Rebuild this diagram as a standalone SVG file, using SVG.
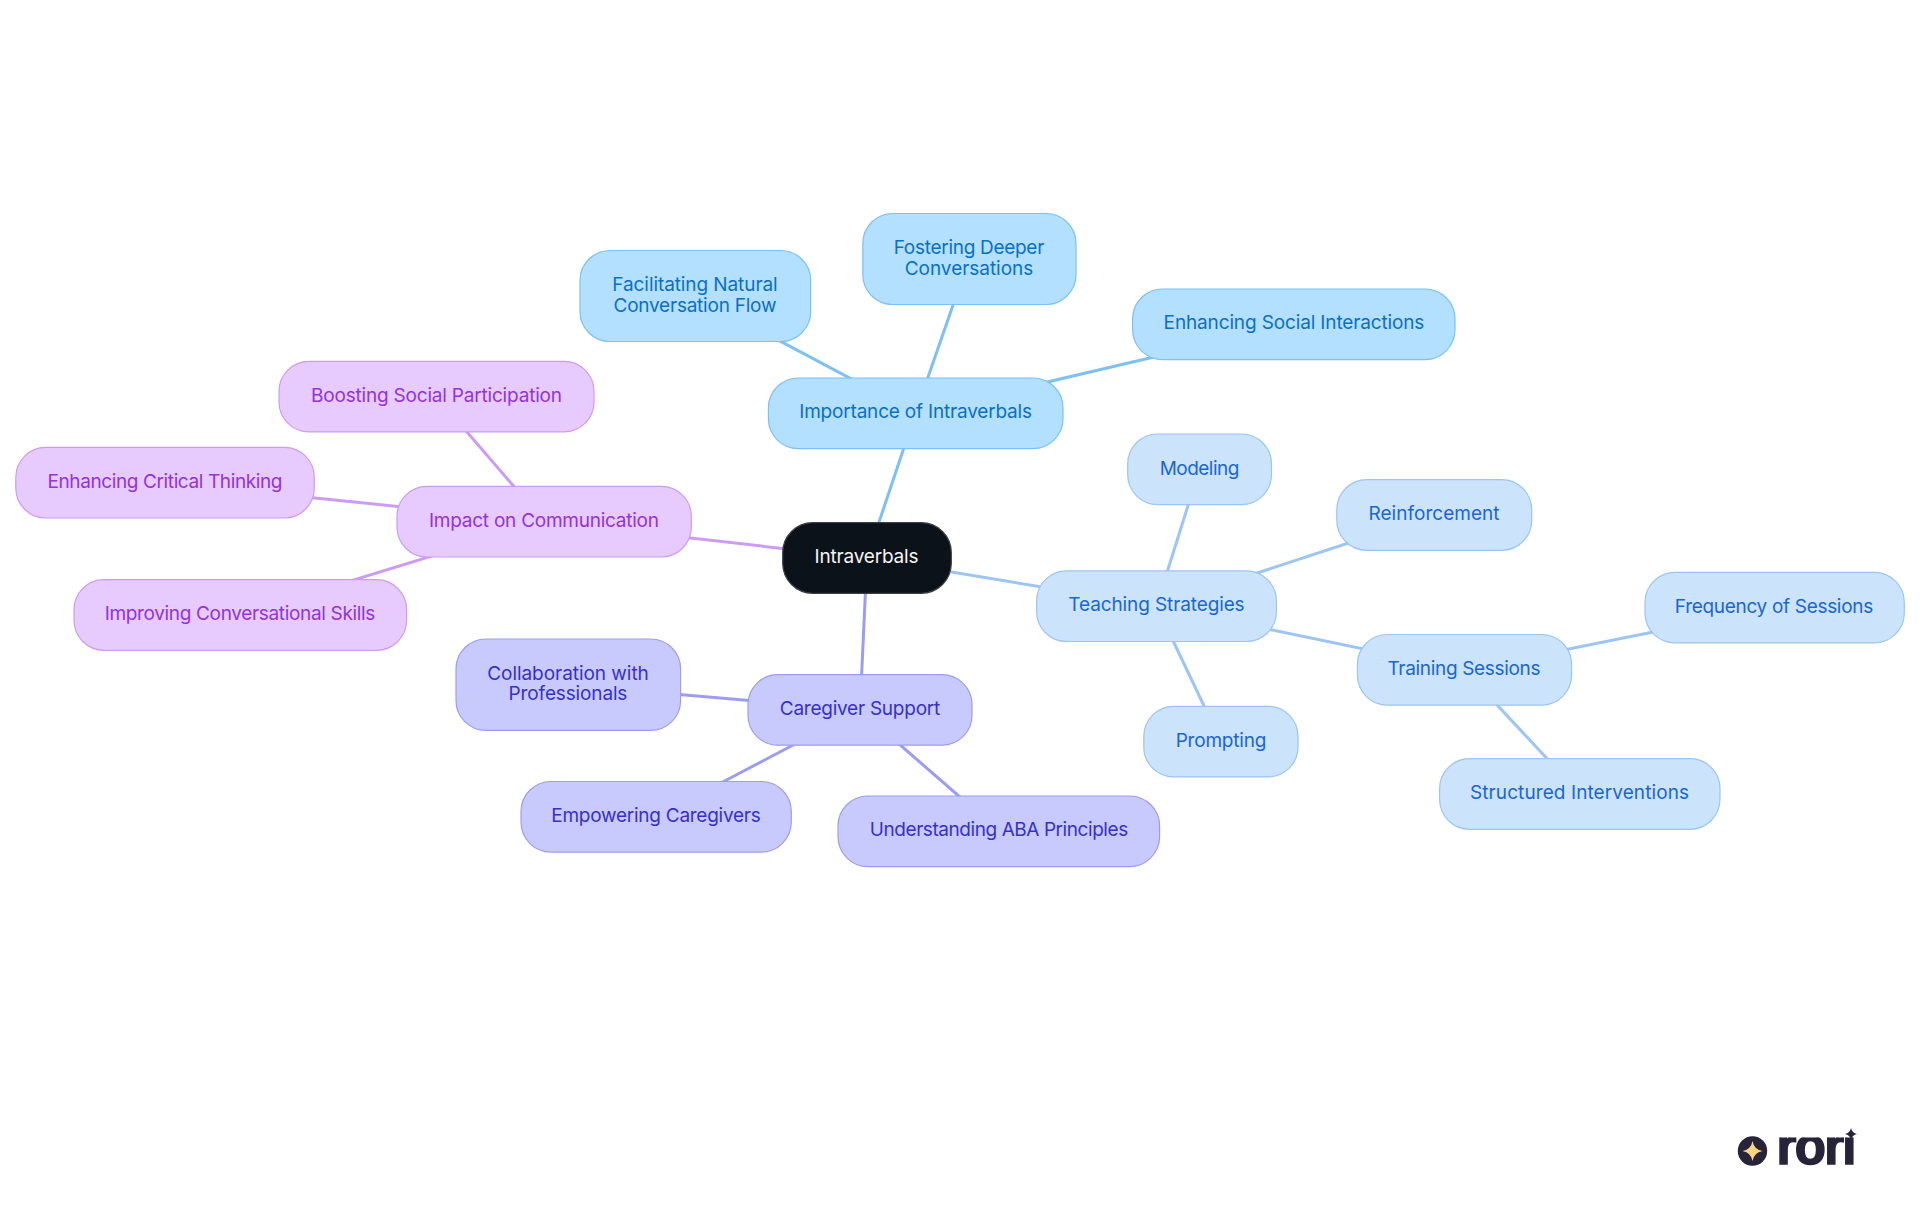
<svg xmlns="http://www.w3.org/2000/svg" width="1920" height="1215" viewBox="0 0 1920 1215">
<style>
text{font-family:"Inter","Noto Sans",sans-serif;font-size:19px;text-anchor:middle}
.e{stroke-width:3;fill:none}
.n{stroke-width:1.2}
.root rect{fill:#0c121a;stroke:#3a3f46}.root text{fill:#f4f5f6}
.a rect{fill:#b3e0ff;stroke:#7cc0f5}.a text{fill:#0b6fc4}.ea{stroke:#7cc0f5}
.b rect{fill:#cce3fc;stroke:#9cc4f4}.b text{fill:#1a66d0}.eb{stroke:#9cc4f4}
.c rect{fill:#c8cafe;stroke:#9d9df0}.c text{fill:#3730c8}.ec{stroke:#9d9df0}
.d rect{fill:#e7cbfe;stroke:#cc9cf5}.d text{fill:#9333d9}.ed{stroke:#cc9cf5}
</style>
<defs><clipPath id="noDot"><rect x="1770" y="1137.5" width="95" height="30"/></clipPath></defs>
<rect width="1920" height="1215" fill="#fff"/>
<g id="connectors">
<line class="e ea" x1="867" y1="558" x2="915.6" y2="413"/>
<line class="e ea" x1="915.6" y1="413" x2="695" y2="296"/>
<line class="e ea" x1="915.6" y1="413" x2="969" y2="259"/>
<line class="e ea" x1="915.6" y1="413" x2="1294" y2="324"/>
<line class="e eb" x1="867" y1="558" x2="1156.5" y2="606"/>
<line class="e eb" x1="1156.5" y1="606" x2="1199.5" y2="469"/>
<line class="e eb" x1="1156.5" y1="606" x2="1434" y2="515"/>
<line class="e eb" x1="1156.5" y1="606" x2="1221" y2="741.5"/>
<line class="e eb" x1="1156.5" y1="606" x2="1464.5" y2="670"/>
<line class="e eb" x1="1464.5" y1="670" x2="1775" y2="607.5"/>
<line class="e eb" x1="1464.5" y1="670" x2="1580" y2="794"/>
<line class="e ec" x1="867" y1="558" x2="860" y2="710"/>
<line class="e ec" x1="860" y1="710" x2="568" y2="685"/>
<line class="e ec" x1="860" y1="710" x2="656" y2="817"/>
<line class="e ec" x1="860" y1="710" x2="999" y2="831"/>
<line class="e ed" x1="867" y1="558" x2="544" y2="521.5"/>
<line class="e ed" x1="544" y1="521.5" x2="436.5" y2="396.5"/>
<line class="e ed" x1="544" y1="521.5" x2="165" y2="482.5"/>
<line class="e ed" x1="544" y1="521.5" x2="240" y2="615"/>
</g>
<g id="root" class="root"><rect class="n" x="782.7" y="522.7" width="168.6" height="70.6" rx="30"/><text x="866.5" y="563" textLength="104">Intraverbals</text></g>
<g id="n-importance" class="a"><rect class="n" x="768.4" y="378" width="294.6" height="70.6" rx="30"/><text x="915.6" y="418" textLength="232.7">Importance of Intraverbals</text></g>
<g id="n-facilitating" class="a"><rect class="n" x="580" y="250.5" width="230.7" height="91" rx="30"/><text x="695" y="291" textLength="165.3">Facilitating Natural</text><text x="695" y="312" textLength="163">Conversation Flow</text></g>
<g id="n-fostering" class="a"><rect class="n" x="862.8" y="213.5" width="213.2" height="91" rx="30"/><text x="969" y="254" textLength="150.6">Fostering Deeper</text><text x="969" y="275" textLength="128.6">Conversations</text></g>
<g id="n-enhancing-social" class="a"><rect class="n" x="1132.6" y="289" width="322.4" height="70.6" rx="30"/><text x="1294" y="329" textLength="260.8">Enhancing Social Interactions</text></g>
<g id="n-teaching" class="b"><rect class="n" x="1036.6" y="570.9" width="239.8" height="70.6" rx="30"/><text x="1156.5" y="611" textLength="176.3">Teaching Strategies</text></g>
<g id="n-modeling" class="b"><rect class="n" x="1127.7" y="434" width="143.8" height="70.6" rx="30"/><text x="1199.5" y="475" textLength="79.6">Modeling</text></g>
<g id="n-reinforcement" class="b"><rect class="n" x="1336.8" y="479.7" width="194.9" height="70.6" rx="30"/><text x="1434" y="520" textLength="131">Reinforcement</text></g>
<g id="n-prompting" class="b"><rect class="n" x="1143.8" y="706.3" width="154.2" height="70.6" rx="30"/><text x="1221" y="747" textLength="90.6">Prompting</text></g>
<g id="n-training" class="b"><rect class="n" x="1357.4" y="634.5" width="214.2" height="70.6" rx="30"/><text x="1464" y="675" textLength="153">Training Sessions</text></g>
<g id="n-frequency" class="b"><rect class="n" x="1645" y="572.3" width="259.3" height="70.6" rx="30"/><text x="1774" y="613" textLength="198.4">Frequency of Sessions</text></g>
<g id="n-structured" class="b"><rect class="n" x="1439.6" y="758.7" width="280.4" height="70.6" rx="30"/><text x="1579.5" y="799" textLength="219">Structured Interventions</text></g>
<g id="n-caregiver" class="c"><rect class="n" x="748" y="674.6" width="224" height="70.6" rx="30"/><text x="860" y="715" textLength="160.4">Caregiver Support</text></g>
<g id="n-collaboration" class="c"><rect class="n" x="456" y="639" width="224.6" height="91.4" rx="30"/><text x="568" y="680" textLength="161.6">Collaboration with</text><text x="568" y="700" textLength="118.8">Professionals</text></g>
<g id="n-empowering" class="c"><rect class="n" x="521" y="781.5" width="270.3" height="70.6" rx="30"/><text x="656" y="822" textLength="209.4">Empowering Caregivers</text></g>
<g id="n-understanding" class="c"><rect class="n" x="838" y="796" width="321.6" height="70.6" rx="30"/><text x="999" y="836" textLength="258.4">Understanding ABA Principles</text></g>
<g id="n-impact" class="d"><rect class="n" x="397" y="486.4" width="294.3" height="70.6" rx="30"/><text x="544" y="527" textLength="230">Impact on Communication</text></g>
<g id="n-boosting" class="d"><rect class="n" x="279" y="361.3" width="315" height="70.6" rx="30"/><text x="436.5" y="402" textLength="251">Boosting Social Participation</text></g>
<g id="n-enhancing-critical" class="d"><rect class="n" x="15.8" y="447.4" width="298.5" height="70.6" rx="30"/><text x="165" y="488" textLength="235">Enhancing Critical Thinking</text></g>
<g id="n-improving" class="d"><rect class="n" x="74" y="579.7" width="332.6" height="70.6" rx="30"/><text x="240" y="620" textLength="270.6">Improving Conversational Skills</text></g>
<g id="logo">
<circle cx="1752.5" cy="1151" r="14.7" fill="#27243a"/>
<path d="M1752.5 1141q1.500 8.500 10 10q-8.500 1.500-10 10q-1.500-8.500-10-10q8.500-1.500 10-10z" fill="#f7d585"/>
<g clip-path="url(#noDot)"><text x="1816.5" y="1164" textLength="80" style="font-family:'Liberation Sans',sans-serif;font-weight:700;font-size:51px;fill:#27243a;stroke:#27243a;stroke-width:1.5">rori</text></g>
<path d="M1851 1128q1 5 6 6q-5 1-6 6q-1-5-6-6q5-1 6-6z" fill="#27243a"/>
</g>
</svg>
